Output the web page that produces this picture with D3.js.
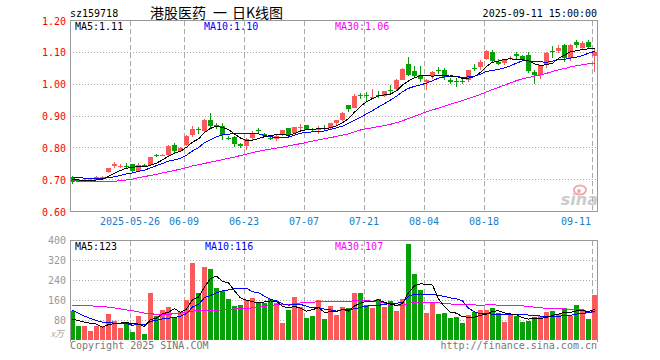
<!DOCTYPE html>
<html>
<head>
<meta charset="utf-8">
<script src="https://cdn.jsdelivr.net/npm/d3@7"></script>
<style>
  body { margin: 0; background: #fff; }
  text { font-family: "DejaVu Sans Mono", monospace; font-size: 10px; }
</style>
</head>
<body>
<div id="chart"></div>
<script>
// trading days shown on the chart (2025)
const dates = [
  "05-12","05-13","05-14","05-15","05-16","05-19","05-20","05-21","05-22","05-23",
  "05-26","05-27","05-28","05-29","05-30","06-03","06-04","06-05","06-06","06-09",
  "06-10","06-11","06-12","06-13","06-16","06-17","06-18","06-19","06-20","06-23",
  "06-24","06-25","06-26","06-27","06-30","07-01","07-02","07-03","07-04","07-07",
  "07-08","07-09","07-10","07-11","07-14","07-15","07-16","07-17","07-18","07-21",
  "07-22","07-23","07-24","07-25","07-28","07-29","07-30","07-31","08-01","08-04",
  "08-05","08-06","08-07","08-08","08-11","08-12","08-13","08-14","08-15","08-18",
  "08-19","08-20","08-21","08-22","08-25","08-26","08-27","08-28","08-29","09-01",
  "09-02","09-03","09-04","09-05","09-08","09-09","09-10","09-11"
];

const open = [
  .707,.698,.697,.698,.700,.702,.723,.743,.742,.744,
  .748,.727,.746,.745,.777,.776,.777,.808,.791,.808,
  .839,.860,.853,.889,.872,.870,.832,.835,.811,.806,
  .832,.857,.845,.831,.829,.839,.861,.847,.863,.871,
  .860,.855,.863,.861,.877,.889,.933,.926,.967,.966,
  .957,.967,.962,.983,.985,1.014,1.064,1.040,1.030,1.006,
  1.027,1.044,1.045,1.014,1.011,1.011,1.012,1.052,1.054,1.080,
  1.100,1.071,1.068,1.081,1.095,1.089,1.092,1.037,1.030,1.063,
  1.104,1.104,1.123,1.083,1.131,1.115,1.131,1.089
];
const high = [
  .712,.703,.701,.703,.712,.713,.738,.757,.748,.752,
  .750,.752,.750,.772,.781,.782,.808,.815,.802,.840,
  .868,.866,.890,.908,.878,.878,.838,.838,.815,.832,
  .852,.862,.848,.836,.839,.857,.862,.867,.876,.872,
  .862,.870,.873,.879,.888,.914,.934,.968,.972,.975,
  .985,.978,.979,.998,1.016,1.050,1.085,1.056,1.056,1.016,
  1.040,1.055,1.051,1.020,1.020,1.020,1.046,1.062,1.075,1.106,
  1.106,1.079,1.080,1.087,1.102,1.092,1.100,1.045,1.061,1.100,
  1.121,1.123,1.126,1.126,1.139,1.136,1.139,1.110
];
const low = [
  .685,.692,.695,.696,.698,.700,.720,.737,.738,.735,
  .725,.725,.740,.742,.770,.774,.775,.783,.789,.806,
  .835,.845,.851,.862,.858,.826,.826,.803,.800,.794,
  .826,.842,.833,.824,.820,.836,.837,.845,.855,.855,
  .852,.843,.857,.859,.868,.884,.913,.924,.952,.947,
  .953,.956,.960,.973,.983,1.012,1.025,1.020,1.008,.983,
  1.015,1.033,1.013,1.000,.990,1.000,1.008,1.040,1.043,1.077,
  1.070,1.061,1.061,1.075,1.080,1.074,1.036,1.000,1.016,1.051,
  1.083,1.098,1.071,1.072,1.115,1.110,1.112,1.039
];
const close = [
  .694,.696,.699,.700,.707,.709,.736,.749,.744,.741,
  .727,.745,.744,.770,.774,.778,.805,.790,.800,.837,
  .858,.857,.887,.868,.868,.839,.829,.811,.806,.829,
  .847,.854,.838,.828,.837,.855,.839,.866,.866,.857,
  .858,.860,.861,.877,.887,.910,.923,.964,.965,.964,
  .959,.965,.977,.981,1.014,1.047,1.030,1.027,1.016,1.014,
  1.037,1.042,1.024,1.006,1.009,1.009,1.045,1.049,1.071,1.105,
  1.074,1.063,1.075,1.083,1.089,1.077,1.040,1.030,1.061,1.099,
  1.100,1.115,1.081,1.123,1.123,1.128,1.118,1.102
];

// moving average lines
const ma5 = [
  .702,.699,.698,.697,.699,.702,.710,.720,.729,.736,
  .739,.741,.740,.745,.752,.762,.774,.783,.789,.802,
  .818,.828,.848,.861,.868,.864,.858,.843,.831,.823,
  .824,.829,.835,.839,.841,.842,.839,.845,.853,.857,
  .857,.861,.860,.863,.869,.879,.892,.912,.930,.945,
  .955,.963,.966,.969,.979,.997,1.010,1.020,1.027,1.027,
  1.025,1.027,1.027,1.025,1.024,1.018,1.019,1.024,1.037,1.056,
  1.069,1.072,1.078,1.080,1.077,1.077,1.073,1.064,1.059,1.061,
  1.066,1.081,1.091,1.102,1.105,1.109,1.111,1.113
];
const ma10 = [
  .706,.706,.705,.704,.704,.704,.706,.709,.713,.718,
  .721,.726,.730,.737,.744,.751,.758,.762,.767,.777,
  .790,.801,.816,.825,.835,.841,.843,.845,.846,.845,
  .844,.844,.839,.835,.832,.833,.834,.840,.846,.849,
  .850,.850,.853,.858,.863,.868,.877,.886,.896,.907,
  .917,.928,.939,.950,.962,.976,.987,.993,.998,1.003,
  1.011,1.019,1.023,1.026,1.025,1.021,1.023,1.025,1.031,1.040,
  1.043,1.046,1.051,1.058,1.066,1.073,1.073,1.071,1.070,1.069,
  1.072,1.077,1.078,1.082,1.085,1.090,1.097,1.103
];
const ma30 = [
  .697,.695,.694,.693,.693,.693,.694,.695,.697,.699,
  .702,.706,.710,.713,.717,.721,.725,.729,.733,.738,
  .743,.747,.751,.755,.759,.763,.767,.771,.776,.780,
  .785,.789,.793,.796,.799,.802,.806,.810,.813,.817,
  .821,.825,.829,.832,.836,.840,.844,.850,.856,.860,
  .863,.867,.870,.874,.879,.885,.892,.899,.906,.913,
  .919,.925,.931,.937,.943,.948,.955,.961,.968,.976,
  .983,.990,.997,1.004,1.011,1.017,1.021,1.025,1.029,1.034,
  1.040,1.045,1.049,1.054,1.058,1.061,1.064,1.066
];

// volume, in 10k lots
const volume = [
  117,56,56,37,56,56,104,77,48,67,
  33,96,24,189,96,120,133,93,113,160,
  309,189,293,285,209,197,165,136,140,160,
  169,147,147,164,149,69,120,173,131,89,
  96,160,84,137,100,133,128,189,189,140,
  128,163,133,156,117,165,384,264,200,109,
  147,104,109,88,93,69,100,111,120,120,
  127,107,73,100,97,73,76,93,97,113,
  116,103,127,97,140,120,84,180
];
const volMa5 = [
  83,78,72,67,64,52,62,66,68,70,
  66,64,54,82,88,105,112,126,111,124,
  162,173,213,247,257,235,230,198,169,160,
  154,150,153,157,155,135,130,135,128,116,
  122,130,112,113,115,123,116,137,148,156,
  155,162,151,144,139,147,191,217,226,224,
  221,165,134,111,108,93,92,92,99,104,
  116,117,109,105,101,90,84,88,87,90,
  99,104,111,111,117,118,114,123
];
const volMa10 = [
  120,108,96,86,78,72,69,68,68,67,
  59,63,60,75,79,85,88,90,96,106,
  133,143,170,179,190,198,201,206,208,208,
  194,190,176,163,157,145,140,144,143,136,
  129,130,124,121,116,122,123,125,131,136,
  139,139,144,146,148,151,176,184,185,182,
  184,178,176,169,166,157,128,113,105,106,
  104,104,101,102,102,103,100,99,96,96,
  95,94,100,99,104,108,109,116
];
const volMa30 = [
  140,139,138,137,136,134,132,129,125,121,
  118,113,108,105,104,104,104,105,108,112,
  116,119,120,120,120,121,123,125,126,127,
  129,132,135,139,142,143,143,146,149,150,
  152,154,156,154,155,155,155,158,161,160,
  154,153,148,143,140,139,147,151,153,151,
  150,149,148,145,143,143,143,141,140,141,
  142,140,140,139,139,137,135,132,129,128,
  127,125,125,123,124,123,113,108
];

const tickDates = ["05-26","06-09","06-23","07-07","07-21","08-04","08-18","09-11"];
const tickLabels = ["2025-05-26","06-09","06-23","07-07","07-21","08-04","08-18","09-11"];
const priceTicks = [1.2, 1.1, 1.0, 0.9, 0.8, 0.7, 0.6];
const volTicks = [400, 320, 240, 160, 80];
const titleParts = ["港股医药", "一", "日K线图"];

const width = 660, height = 360;
const left = 70, right = 597;
const RED = "#fa5a5a", GREEN = "#08a008";

const svg = d3.select("#chart").append("svg")
  .attr("width", width)
  .attr("height", height);

const x = d3.scalePoint().domain(dates).range([70, 592]);
const y = d3.scaleLinear().domain([0.6, 1.2]).range([211.5, 20.5]);
const yv = d3.scaleLinear().domain([0, 400]).range([340, 240.5]);

const up = i => close[i] >= open[i];

// ---- header texts
svg.append("text").attr("x", 70).attr("y", 17).text("sz159718");
svg.selectAll(".title").data(titleParts).enter().append("text")
  .attr("x", (d, i) => [150, 213, 232][i]).attr("y", 18)
  .style("font-family", "'Noto Sans CJK SC', sans-serif").style("font-size", "14px")
  .text(d => d);
svg.append("text").attr("x", right).attr("y", 17).attr("text-anchor", "end")
  .text("2025-09-11 15:00:00");

// ---- grids for both panels
function panelGrid(top, bottom, hTicks, scale) {
  const g = svg.append("g").attr("shape-rendering", "crispEdges");
  g.selectAll(".h").data(hTicks).enter().append("line")
    .attr("x1", left).attr("x2", right)
    .attr("y1", d => scale(d)).attr("y2", d => scale(d))
    .attr("stroke", "#aaa").attr("stroke-dasharray", "1,2");
  g.selectAll(".v").data(tickDates).enter().append("line")
    .attr("x1", d => x(d) + 0.5).attr("x2", d => x(d) + 0.5)
    .attr("y1", top).attr("y2", bottom)
    .attr("stroke", "#aaa").attr("stroke-dasharray", "5,3");
}
panelGrid(20.5, 211.5, [1.1, 1.0, 0.9, 0.8, 0.7], y);
panelGrid(240.5, 340, [320, 240, 160, 80], yv);

// ---- candles
const candles = svg.append("g").attr("shape-rendering", "crispEdges");
candles.selectAll("line").data(dates).enter().append("line")
  .attr("x1", d => x(d) + 2.5).attr("x2", d => x(d) + 2.5)
  .attr("y1", (d, i) => y(high[i])).attr("y2", (d, i) => y(low[i]))
  .attr("stroke", (d, i) => up(i) ? RED : GREEN);
candles.selectAll("rect").data(dates).enter().append("rect")
  .attr("x", d => x(d))
  .attr("y", (d, i) => y(Math.max(open[i], close[i])))
  .attr("width", 5)
  .attr("height", (d, i) => Math.max(1, Math.abs(y(open[i]) - y(close[i]))))
  .attr("fill", (d, i) => up(i) ? RED : GREEN);

// ---- volume bars
svg.append("g").attr("shape-rendering", "crispEdges")
  .selectAll("rect").data(dates).enter().append("rect")
  .attr("x", d => x(d))
  .attr("y", (d, i) => yv(volume[i]))
  .attr("width", 5)
  .attr("height", (d, i) => yv(0) - yv(volume[i]))
  .attr("fill", (d, i) => up(i) ? RED : GREEN);

// ---- moving average lines
function maLine(values, scale, color) {
  const line = d3.line().x((d, i) => x(dates[i]) + 2.5).y(d => scale(d));
  svg.append("path").datum(values)
    .attr("d", line)
    .attr("fill", "none")
    .attr("stroke", color)
    .attr("stroke-width", 1)
    .attr("shape-rendering", "crispEdges");
}
maLine(ma30, y, "#ff00ff");
maLine(ma10, y, "#0000ff");
maLine(ma5, y, "#000");
maLine(volMa30, yv, "#ff00ff");
maLine(volMa10, yv, "#0000ff");
maLine(volMa5, yv, "#000");

// ---- frames
const frame = svg.append("g").attr("shape-rendering", "crispEdges")
  .attr("stroke", "#999").attr("fill", "none");
frame.append("path").attr("d", `M${left + 0.5},211.5V20.5H${right + 0.5}V211.5M${left + 0.5},211.5H${right + 0.5}`);
frame.append("path").attr("d", `M${left + 0.5},342V240.5H${right + 0.5}V342`);

// ---- axis labels
svg.selectAll(".pl").data(priceTicks).enter().append("text")
  .attr("x", 66).attr("y", d => y(d) + 4)
  .attr("text-anchor", "end").attr("fill", "#f00")
  .text(d => d.toFixed(2));
svg.selectAll(".vl").data(volTicks).enter().append("text")
  .attr("x", 66).attr("y", d => yv(d) + 3.5)
  .attr("text-anchor", "end").attr("fill", "#999")
  .text(d => d);
svg.append("text").attr("x", 64).attr("y", 337).attr("text-anchor", "end")
  .attr("fill", "#aaa").style("font-family", "'Noto Sans CJK SC', sans-serif")
  .style("font-size", "9px").style("font-style", "italic").text("x万");

svg.selectAll(".xl").data(tickDates).enter().append("text")
  .attr("x", (d, i) => i === tickDates.length - 1 ? x(d) - 1 : x(d))
  .attr("y", 225)
  .attr("text-anchor", (d, i) => i === tickDates.length - 1 ? "end" : "middle")
  .attr("fill", "#1a7dc8")
  .text((d, i) => tickLabels[i]);

// ---- MA legends
const last = arr => arr[arr.length - 1];
svg.append("text").attr("x", 75).attr("y", 30).text("MA5:" + last(ma5).toFixed(2).slice(0, 4));
svg.append("text").attr("x", 204).attr("y", 30).attr("fill", "#00f").text("MA10:" + last(ma10).toFixed(2));
svg.append("text").attr("x", 335).attr("y", 30).attr("fill", "#f0f").text("MA30:" + (Math.floor(last(ma30) * 100) / 100).toFixed(2));
svg.append("text").attr("x", 75).attr("y", 250).text("MA5:123");
svg.append("text").attr("x", 205).attr("y", 250).attr("fill", "#00f").text("MA10:116");
svg.append("text").attr("x", 335).attr("y", 250).attr("fill", "#f0f").text("MA30:107");

// ---- footer and watermark
svg.append("text").attr("x", 70).attr("y", 349).attr("fill", "#777").text("Copyright 2025 SINA.COM");
svg.append("text").attr("x", right).attr("y", 349).attr("text-anchor", "end").attr("fill", "#777")
  .text("http://finance.sina.com.cn");

const logo = svg.append("g").attr("opacity", 0.6);
logo.append("ellipse").attr("cx", 580).attr("cy", 190).attr("rx", 6).attr("ry", 4.5)
  .attr("fill", "none").attr("stroke", "#f07070").attr("stroke-width", 2);
logo.append("circle").attr("cx", 579).attr("cy", 191).attr("r", 2).attr("fill", "#f07070");
logo.append("text").attr("x", 598).attr("y", 205).attr("text-anchor", "end")
  .style("font-family", "'DejaVu Sans', sans-serif").style("font-size", "16px")
  .style("font-weight", "bold").style("font-style", "italic")
  .attr("fill", "#aaa").text("sina");
</script>
</body>
</html>
